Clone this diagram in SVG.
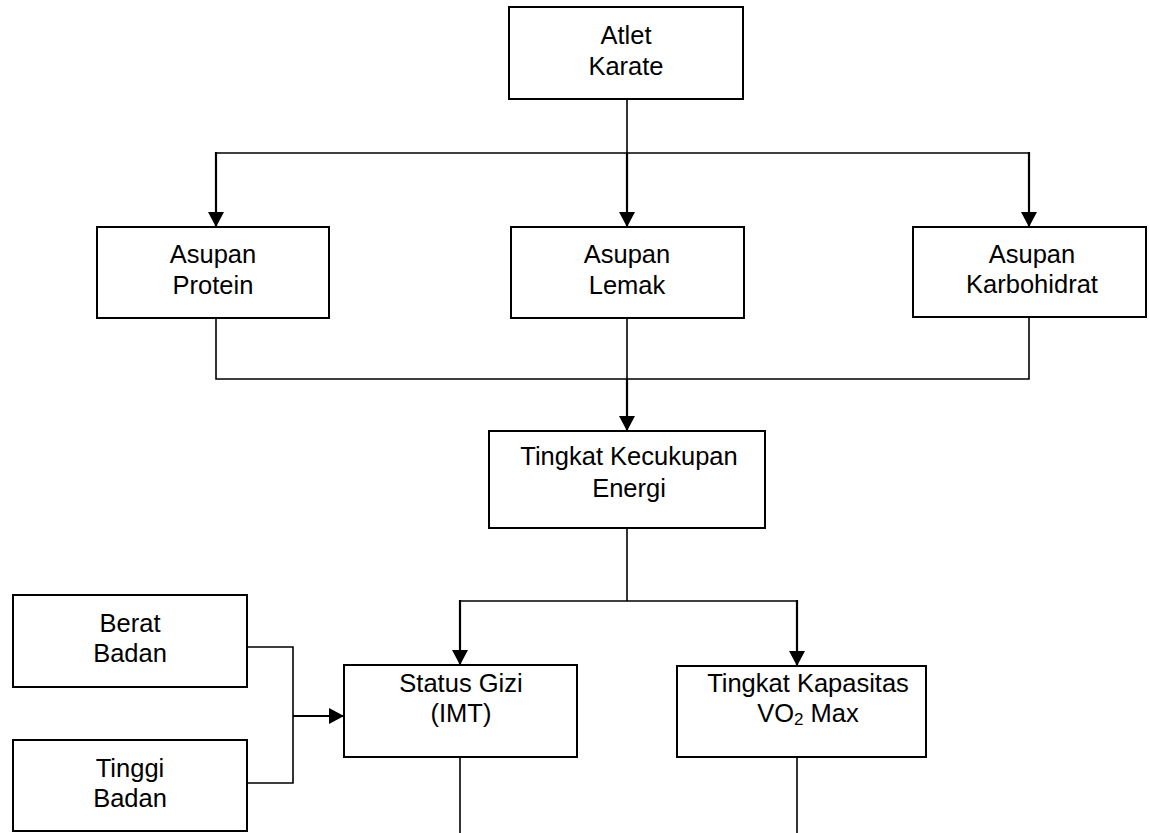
<svg xmlns="http://www.w3.org/2000/svg" width="1150" height="833" viewBox="0 0 1150 833">
<style>
.box{fill:#fff;stroke:#000;stroke-width:2}
.t{font-family:"Liberation Sans",Arial,sans-serif;font-size:25.5px;fill:#000;text-anchor:middle}
.ln{fill:none;stroke:#000;stroke-width:1.6}
.ar{fill:none;stroke:#000;stroke-width:2.2;marker-end:url(#ah)}
</style>
<defs>
<marker id="ah" markerUnits="userSpaceOnUse" markerWidth="16" markerHeight="16" refX="15" refY="8" orient="auto">
<path d="M0,0 L15,8 L0,16 Z" fill="#000"/>
</marker>
</defs>
<g id="connectors">
<line class="ln" x1="627" y1="99" x2="627" y2="153"/>
<line class="ln" x1="216" y1="153" x2="1029" y2="153"/>
<line class="ar" x1="216" y1="152" x2="216" y2="227"/>
<line class="ar" x1="627" y1="153" x2="627" y2="227"/>
<line class="ar" x1="1029" y1="152" x2="1029" y2="227"/>
<polyline class="ln" points="216,318 216,379 1029,379 1029,318"/>
<line class="ln" x1="627" y1="318" x2="627" y2="379"/>
<line class="ar" x1="627" y1="379" x2="627" y2="431"/>
<line class="ln" x1="627" y1="528" x2="627" y2="601"/>
<line class="ln" x1="459" y1="601" x2="797" y2="601"/>
<line class="ar" x1="460" y1="600" x2="460" y2="665"/>
<line class="ar" x1="797" y1="600" x2="797" y2="666"/>
<polyline class="ln" points="247,647 293,647 293,783 247,783"/>
<line class="ar" x1="293" y1="716" x2="344" y2="716"/>
<line class="ln" x1="460" y1="757" x2="460" y2="833"/>
<line class="ln" x1="797" y1="757" x2="797" y2="833"/>
</g>
<g id="atlet-karate">
<rect class="box" x="509" y="7" width="234" height="92"/>
<text class="t" x="626" y="44">Atlet</text>
<text class="t" x="626" y="75">Karate</text>
</g>
<g id="asupan-protein">
<rect class="box" x="97" y="227" width="232" height="91"/>
<text class="t" x="213" y="263">Asupan</text>
<text class="t" x="213" y="294">Protein</text>
</g>
<g id="asupan-lemak">
<rect class="box" x="511" y="227" width="233" height="91"/>
<text class="t" x="627" y="263">Asupan</text>
<text class="t" x="627" y="294">Lemak</text>
</g>
<g id="asupan-karbohidrat">
<rect class="box" x="913" y="227" width="233" height="90"/>
<text class="t" x="1032" y="263">Asupan</text>
<text class="t" x="1032" y="293">Karbohidrat</text>
</g>
<g id="tingkat-kecukupan-energi">
<rect class="box" x="489" y="431" width="276" height="97"/>
<text class="t" x="629" y="465">Tingkat Kecukupan</text>
<text class="t" x="629" y="497">Energi</text>
</g>
<g id="berat-badan">
<rect class="box" x="13" y="595" width="234" height="92"/>
<text class="t" x="130" y="632">Berat</text>
<text class="t" x="130" y="662">Badan</text>
</g>
<g id="tinggi-badan">
<rect class="box" x="13" y="740" width="234" height="91"/>
<text class="t" x="130" y="777">Tinggi</text>
<text class="t" x="130" y="807">Badan</text>
</g>
<g id="status-gizi">
<rect class="box" x="344" y="665" width="233" height="92"/>
<text class="t" x="461" y="692">Status Gizi</text>
<text class="t" x="461" y="722">(IMT)</text>
</g>
<g id="tingkat-kapasitas">
<rect class="box" x="677" y="666" width="249" height="91"/>
<text class="t" x="808" y="692">Tingkat Kapasitas</text>
<text class="t" x="808" y="722">VO<tspan font-size="17" dy="3">2</tspan><tspan dy="-3"> Max</tspan></text>
</g>
</svg>
